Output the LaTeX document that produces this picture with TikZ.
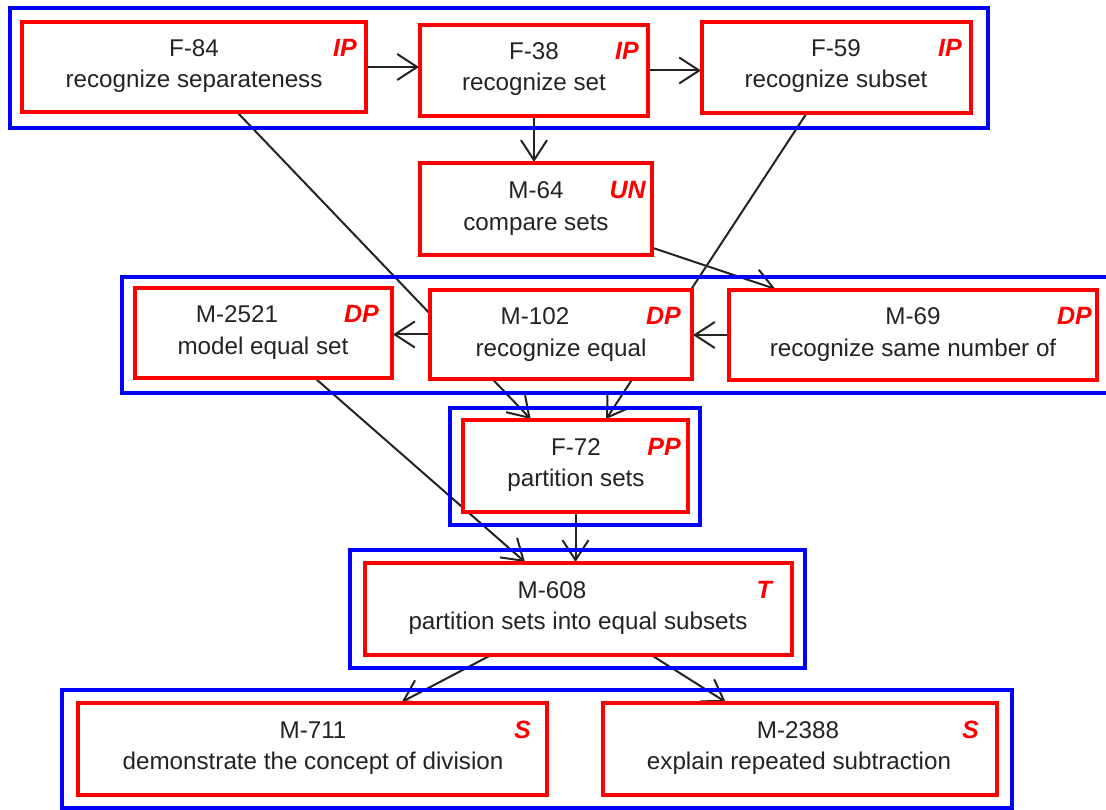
\documentclass[tikz,border=0pt]{standalone}
\usepackage{fontspec}
\setmainfont{Liberation Sans}
\usetikzlibrary{arrows.meta}
\pgfdeclarelayer{background}
\pgfsetlayers{background,main}

\definecolor{boxred}{RGB}{255,0,0}
\definecolor{frameblue}{RGB}{0,0,255}
\definecolor{ink}{RGB}{35,35,35}

\tikzset{
  topic/.style={draw=boxred, line width=4pt, fill=white, inner sep=0pt, outer sep=1pt},
  frame/.style={draw=frameblue, line width=4pt},
  txt/.style={anchor=base, inner sep=0pt, font=\fontsize{24.2}{28}\selectfont, text=ink},
  tag/.style={anchor=base east, inner sep=0pt, font=\fontsize{25}{28}\selectfont\bfseries\itshape, text=boxred},
  link/.style={draw=ink, line width=2pt, -{Straight Barb[length=20pt,width=26pt]}},
}

\begin{document}
\begin{tikzpicture}[x=1pt,y=-1pt]
\useasboundingbox (0,0) rectangle (1106,810);
\clip (0,0) rectangle (1106,810);

% group frames
\draw[frame] (10,8) rectangle (988,128);
\draw[frame] (122,277) rectangle (1114,393);
\draw[frame] (450,408) rectangle (700,525);
\draw[frame] (350,550) rectangle (805,668);
\draw[frame] (62,690) rectangle (1012,808);

% top row
\node[topic, minimum width=344pt, minimum height=90pt] (f84) at (194,67) {};
\node[txt] (f84a) at (194,57) {F-84};
\node[txt] (f84b) at (194,88) {recognize separateness};
\node[tag] (f84t) at (357,57) {IP};

\node[topic, minimum width=228pt, minimum height=91pt] (f38) at (534,70.5) {};
\node[txt] (f38a) at (534,60) {F-38};
\node[txt] (f38b) at (534,91) {recognize set};
\node[tag] (f38t) at (639,60) {IP};

\node[topic, minimum width=269pt, minimum height=91pt] (f59) at (836.5,67.5) {};
\node[txt] (f59a) at (836,57) {F-59};
\node[txt] (f59b) at (836,88) {recognize subset};
\node[tag] (f59t) at (962,57) {IP};

% second row
\node[topic, minimum width=232pt, minimum height=92pt] (m64) at (536,209) {};
\node[txt] (m64a) at (536,199) {M-64};
\node[txt] (m64b) at (536,231) {compare sets};
\node[tag] (m64t) at (646,199) {UN};

% third row
\node[topic, minimum width=257pt, minimum height=90pt] (m2521) at (263.5,333) {};
\node[txt] (m2521a) at (237,323) {M-2521};
\node[txt] (m2521b) at (263,355) {model equal set};
\node[tag] (m2521t) at (379,323) {DP};

\node[topic, minimum width=262pt, minimum height=89pt] (m102) at (561,334.5) {};
\node[txt] (m102a) at (535,325) {M-102};
\node[txt] (m102b) at (561,356) {recognize equal};
\node[tag] (m102t) at (681,325) {DP};

\node[topic, minimum width=368pt, minimum height=90pt] (m69) at (913,335) {};
\node[txt] (m69a) at (913,325) {M-69};
\node[txt] (m69b) at (913,356) {recognize same number of};
\node[tag] (m69t) at (1092,325) {DP};

% fourth row
\node[topic, minimum width=225pt, minimum height=92pt] (f72) at (575.5,466) {};
\node[txt] (f72a) at (576,455) {F-72};
\node[txt] (f72b) at (576,486) {partition sets};
\node[tag] (f72t) at (681,455) {PP};

% fifth row
\node[topic, minimum width=427pt, minimum height=92pt] (m608) at (578.5,609) {};
\node[txt] (m608a) at (552,598) {M-608};
\node[txt] (m608b) at (578,629) {partition sets into equal subsets};
\node[tag] (m608t) at (772,598) {T};

% bottom row
\node[topic, minimum width=469pt, minimum height=92pt] (m711) at (312.5,749) {};
\node[txt] (m711a) at (313,738) {M-711};
\node[txt] (m711b) at (313,769) {demonstrate the concept of division};
\node[tag] (m711t) at (531,738) {S};

\node[topic, minimum width=394pt, minimum height=92pt] (m2388) at (800,749) {};
\node[txt] (m2388a) at (798,738) {M-2388};
\node[txt] (m2388b) at (799,769) {explain repeated subtraction};
\node[tag] (m2388t) at (979,738) {S};

% connectors, kept behind the boxes
\begin{pgfonlayer}{background}
\draw[link] (f84.east) -- (f84.east -| f38.west);
\draw[link] (f38.east) -- (f38.east -| f59.west);
\draw[link] (f38.south) -- (f38.south |- m64.north);
\draw[link] (m64) -- (m69);
\draw[link] (f84) -- (f72);
\draw[link] (f59) -- (f72);
\draw[link] (m102.west) -- (m102.west -| m2521.east);
\draw[link] (m69.west) -- (m69.west -| m102.east);
\draw[link] (m2521) -- (m608);
\draw[link] (f72.south) -- (f72.south |- m608.north);
\draw[link] (m608) -- (m711);
\draw[link] (m608) -- (m2388);
\end{pgfonlayer}
\end{tikzpicture}
\end{document}
